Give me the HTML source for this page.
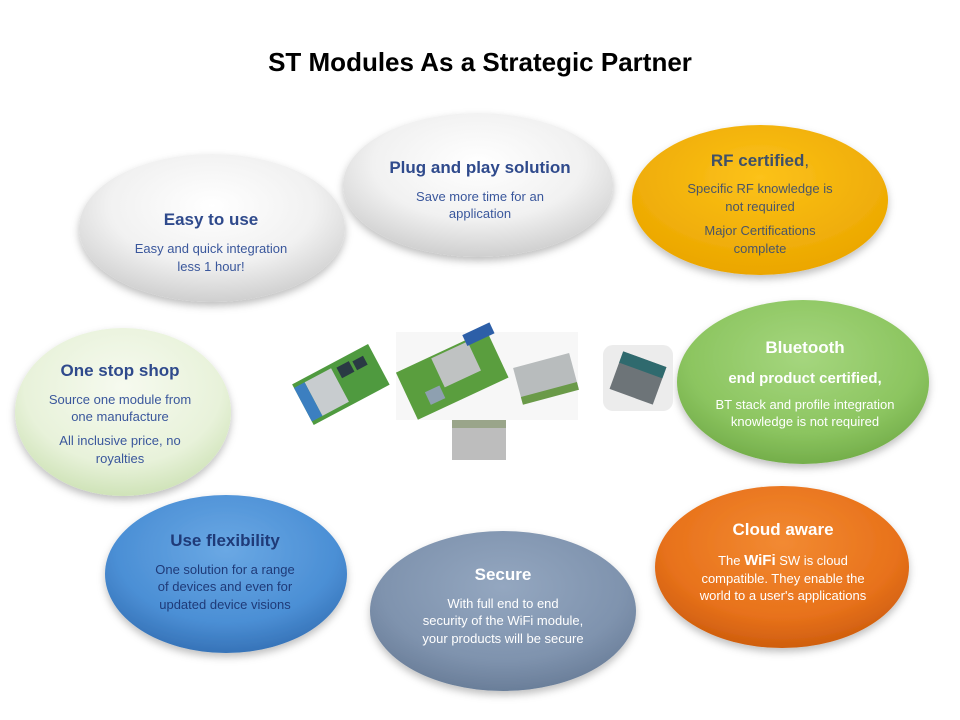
<!DOCTYPE html>
<html><head><meta charset="utf-8"><style>
html,body{margin:0;padding:0;background:#fff;}
svg{display:block;font-family:"Liberation Sans",sans-serif;}
</style></head><body>
<svg width="960" height="720" viewBox="0 0 960 720" xmlns="http://www.w3.org/2000/svg">
<defs>
<radialGradient id="gw" cx="50%" cy="35%" r="65%"><stop offset="0" stop-color="#ffffff"/><stop offset="0.6" stop-color="#f1f1f1"/><stop offset="1" stop-color="#cfcfcf"/></radialGradient>
<radialGradient id="gy" cx="50%" cy="35%" r="65%"><stop offset="0" stop-color="#fcc21a"/><stop offset="1" stop-color="#eba600"/></radialGradient>
<radialGradient id="gpg" cx="50%" cy="35%" r="65%"><stop offset="0" stop-color="#f6faef"/><stop offset="0.7" stop-color="#e8f2da"/><stop offset="1" stop-color="#cfe3b8"/></radialGradient>
<radialGradient id="gg" cx="50%" cy="35%" r="65%"><stop offset="0" stop-color="#a5d67e"/><stop offset="0.7" stop-color="#8cc560"/><stop offset="1" stop-color="#74ae4a"/></radialGradient>
<radialGradient id="gb" cx="50%" cy="35%" r="65%"><stop offset="0" stop-color="#6aa8e4"/><stop offset="0.7" stop-color="#4b8fd5"/><stop offset="1" stop-color="#3673b8"/></radialGradient>
<radialGradient id="gs" cx="50%" cy="35%" r="65%"><stop offset="0" stop-color="#94a7c0"/><stop offset="0.7" stop-color="#7f93ae"/><stop offset="1" stop-color="#6a7e99"/></radialGradient>
<radialGradient id="go" cx="50%" cy="35%" r="65%"><stop offset="0" stop-color="#f28a32"/><stop offset="0.7" stop-color="#e8721b"/><stop offset="1" stop-color="#cf5e0e"/></radialGradient>
<filter id="sh" x="-20%" y="-20%" width="140%" height="150%"><feDropShadow dx="0" dy="4" stdDeviation="4" flood-color="#000" flood-opacity="0.25"/></filter>
</defs>
<text x="480" y="71" text-anchor="middle" font-size="26" font-weight="bold" fill="#000">ST Modules As a Strategic Partner</text>

<g filter="url(#sh)">
<ellipse cx="212" cy="228" rx="133" ry="74" fill="url(#gw)"/>
<ellipse cx="478" cy="185" rx="135" ry="72" fill="url(#gw)"/>
<ellipse cx="760" cy="200" rx="128" ry="75" fill="url(#gy)"/>
<ellipse cx="123" cy="412" rx="108" ry="84" fill="url(#gpg)"/>
<ellipse cx="803" cy="382" rx="126" ry="82" fill="url(#gg)"/>
<ellipse cx="226" cy="574" rx="121" ry="79" fill="url(#gb)"/>
<ellipse cx="503" cy="611" rx="133" ry="80" fill="url(#gs)"/>
<ellipse cx="782" cy="567" rx="127" ry="81" fill="url(#go)"/>
</g>

<g text-anchor="middle">
<text x="211" y="225" font-size="17" font-weight="bold" fill="#2f4a8c">Easy to use</text>
<text x="211" y="253" font-size="13" fill="#3a579c">Easy and quick integration</text>
<text x="211" y="271" font-size="13" fill="#3a579c">less 1 hour!</text>

<text x="480" y="173" font-size="17" font-weight="bold" fill="#2f4a8c">Plug and play solution</text>
<text x="480" y="201" font-size="13" fill="#3a579c">Save more time for an</text>
<text x="480" y="218" font-size="13" fill="#3a579c">application</text>

<text x="760" y="166" font-size="17" font-weight="bold" fill="#3f5068">RF certified<tspan font-weight="normal">,</tspan></text>
<text x="760" y="193" font-size="13" fill="#4a5568">Specific RF knowledge is</text>
<text x="760" y="211" font-size="13" fill="#4a5568">not required</text>
<text x="760" y="235" font-size="13" fill="#4a5568">Major Certifications</text>
<text x="760" y="253" font-size="13" fill="#4a5568">complete</text>

<text x="120" y="376" font-size="17" font-weight="bold" fill="#2f4a8c">One stop shop</text>
<text x="120" y="404" font-size="13" fill="#3a579c">Source one module from</text>
<text x="120" y="421" font-size="13" fill="#3a579c">one manufacture</text>
<text x="120" y="445" font-size="13" fill="#3a579c">All inclusive price, no</text>
<text x="120" y="463" font-size="13" fill="#3a579c">royalties</text>

<text x="805" y="353" font-size="17" font-weight="bold" fill="#fff">Bluetooth</text>
<text x="805" y="383" font-size="15" font-weight="bold" fill="#fff">end product certified,</text>
<text x="805" y="409" font-size="13" fill="#fff">BT stack and profile integration</text>
<text x="805" y="426" font-size="13" fill="#fff">knowledge is not required</text>

<text x="225" y="546" font-size="17" font-weight="bold" fill="#1f3a78">Use flexibility</text>
<text x="225" y="574" font-size="13" fill="#1f3a78">One solution for a range</text>
<text x="225" y="591" font-size="13" fill="#1f3a78">of devices and even for</text>
<text x="225" y="609" font-size="13" fill="#1f3a78">updated device visions</text>

<text x="503" y="580" font-size="17" font-weight="bold" fill="#fff">Secure</text>
<text x="503" y="608" font-size="13" fill="#fff">With full end to end</text>
<text x="503" y="625" font-size="13" fill="#fff">security of the WiFi module,</text>
<text x="503" y="643" font-size="13" fill="#fff">your products will be secure</text>

<text x="783" y="535" font-size="17" font-weight="bold" fill="#fff">Cloud aware</text>
<text x="783" y="565" font-size="13" fill="#fff">The <tspan font-weight="bold" font-size="15">WiFi</tspan> SW is cloud</text>
<text x="783" y="583" font-size="13" fill="#fff">compatible. They enable the</text>
<text x="783" y="600" font-size="13" fill="#fff">world to a user's applications</text>
</g>

<g transform="rotate(-28 340 385)">
<rect x="298" y="362" width="86" height="46" fill="#4f9a3f"/>
<rect x="310" y="366" width="30" height="38" fill="#c8cccf"/>
<rect x="298" y="366" width="12" height="38" fill="#3c7fc0"/>
<rect x="345" y="368" width="14" height="12" fill="#2a3a44"/>
<rect x="362" y="370" width="12" height="10" fill="#2a3a44"/>
</g>
<rect x="396" y="332" width="182" height="88" fill="#f7f7f7"/>
<g transform="rotate(-25 450 375)">
<rect x="402" y="350" width="100" height="52" fill="#5a9e3e"/>
<rect x="440" y="352" width="40" height="32" fill="#bfc2c2"/>
<rect x="478" y="344" width="30" height="12" fill="#2d5fa8"/>
<rect x="420" y="380" width="16" height="14" fill="#8ea0b0"/>
</g>
<g transform="rotate(-15 545 375)">
<rect x="516" y="360" width="58" height="36" fill="#b8bcbd"/>
<rect x="516" y="390" width="58" height="8" fill="#6a9a48"/>
</g>
<rect x="452" y="420" width="54" height="40" fill="#bdbdbd"/>
<rect x="452" y="420" width="54" height="8" fill="#9aa58a"/>
<rect x="603" y="345" width="70" height="66" rx="10" fill="#ececec"/>
<g transform="rotate(20 638 378)">
<rect x="615" y="358" width="46" height="40" fill="#6d7478"/>
<rect x="615" y="358" width="46" height="12" fill="#2f6a6e"/>
</g>
</svg>
</body></html>
